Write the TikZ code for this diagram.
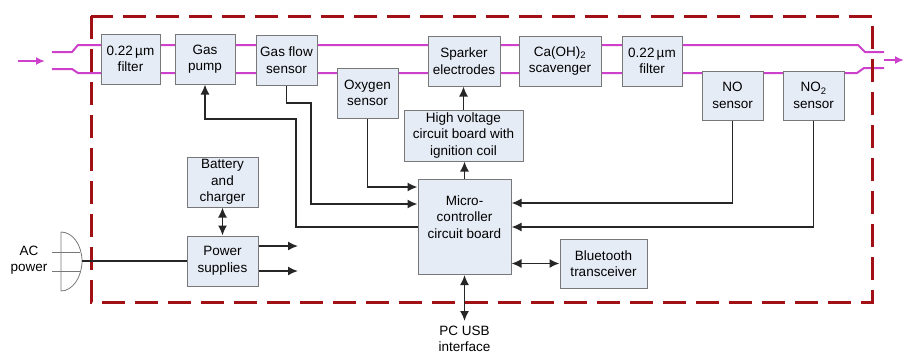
\documentclass[tikz,border=0pt]{standalone}
\usepackage{fontspec}
\setmainfont{Liberation Sans}
\usetikzlibrary{arrows.meta,calc}
\definecolor{boxfill}{RGB}{230,236,246}
\definecolor{boxline}{RGB}{120,120,120}
\definecolor{tubecol}{RGB}{204,64,204}
\definecolor{casecol}{RGB}{160,16,20}

\begin{document}
\begin{tikzpicture}[x=1pt,y=-1pt,
  blk/.style={draw=boxline,fill=boxfill,line width=1pt,align=center,inner sep=1pt,
    font=\fontsize{13.5}{16.5}\selectfont},
  lbl/.style={align=center,inner sep=0pt,font=\fontsize{13.5}{16.5}\selectfont},
  wire/.style={line width=1.6pt,black!85},
  tip/.style={-{Latex[length=10pt,width=9pt]}},
  dtip/.style={{Latex[length=10pt,width=9pt]}-{Latex[length=10pt,width=9pt]}},
  tube/.style={line width=2pt,tubecol}]
\useasboundingbox (0,0) rectangle (904,356);
\draw[tube] (52,52)--(72,52)--(78,45)--(858,45)--(865,52)--(884,52);
\draw[tube] (52,69)--(72,69)--(78,73)--(857,73)--(864,68)--(884,68);
\coordinate (gasin) at (18,61); \coordinate (gasinend) at (45,61);
\coordinate (gasout) at (884,60); \coordinate (gasoutend) at (904,60);
\draw[tube,-{Latex[length=9pt,width=8pt]}] (gasin)--(gasinend);
\draw[tube,-{Latex[length=9pt,width=8pt]}] (gasout)--(gasoutend);
\draw[casecol,line width=3pt,dash pattern=on 23pt off 10pt] (91,16) rectangle (872,302);

\node[blk,minimum width=59pt,minimum height=50pt] (filterA) at (130.5,59) {0.22\,µm\\filter};
\node[blk,minimum width=60pt,minimum height=50pt] (pump) at (205,59) {Gas\\pump};
\node[blk,minimum width=61pt,minimum height=50pt] (flow) at (286.5,60) {Gas flow\\sensor};
\node[blk,minimum width=61pt,minimum height=50pt] (oxy) at (367.5,93) {Oxygen\\sensor};
\node[blk,minimum width=72pt,minimum height=50pt] (spark) at (464,61) {Sparker\\electrodes};
\node[blk,minimum width=82pt,minimum height=50pt] (scav) at (560,61) {Ca(OH)\textsubscript{2}\\scavenger};
\node[blk,minimum width=60pt,minimum height=50pt] (filterB) at (652,61) {0.22\,µm\\filter};
\node[blk,minimum width=61pt,minimum height=49pt] (nosens) at (732.5,95.5) {NO\\sensor};
\node[blk,minimum width=61pt,minimum height=49pt] (notwo) at (813.5,95.5) {NO\textsubscript{2}\\sensor};
\node[blk,minimum width=119pt,minimum height=51pt] (hv) at (463.5,135.5) {High voltage\\circuit board with\\ignition coil};
\node[blk,minimum width=93pt,minimum height=95pt] (micro) at (464.5,227) {Micro-\\controller\\circuit board\\[4pt]};
\node[blk,minimum width=71pt,minimum height=50pt] (batt) at (222.5,182) {Battery\\and\\charger};
\node[blk,minimum width=71pt,minimum height=50pt] (power) at (222.5,261) {Power\\supplies};
\node[blk,minimum width=87pt,minimum height=49pt] (bt) at (603.5,263.5) {Bluetooth\\transceiver};
\node[lbl] (acin) at (29,260) {AC\\power};
\node[lbl] (usbtxt) at (464.5,339) {PC USB\\interface};

\coordinate (plug) at (82,261);
\draw[boxline,line width=0.8pt] (61,232)--(61,291) (61,232) .. controls (72.6,232) and (82,245) .. (plug)
  .. controls (82,277) and (72.6,291) .. (61,291);
\draw[boxline,line width=0.8pt] (52,252)--(80,252) (52,271)--(80,271);
\draw[wire] (plug)--(power.west);
\coordinate (outA) at (298,246); \coordinate (outB) at (298,271);
\draw[wire,tip] (power.east |- outA)--(outA);
\draw[wire,tip] (power.east |- outB)--(outB);
\draw[wire,dtip] (batt.south)--(power.north);

\draw[wire,tip] (micro.west)-|(296,119)-|(pump.south);
\draw[wire,tip] (flow.south)|-(311,103)|-($(micro.west)+(0,-23)$);
\draw[wire,tip] (oxy.south)|-($(micro.west)+(0,-40)$);
\draw[wire,tip] (nosens.south)|-($(micro.east)+(0,-24)$);
\draw[wire,tip] (notwo.south)|-(micro.east);
\draw[wire,tip] (micro.north)--(micro.north |- hv.south);
\draw[wire,tip] (hv.north)--(hv.north |- spark.south);
\draw[wire,dtip] (micro.east |- bt.west)--(bt.west);
\coordinate (usb) at (464.5,321);
\draw[wire,dtip] (micro.south)--(usb);
\end{tikzpicture}
\end{document}
